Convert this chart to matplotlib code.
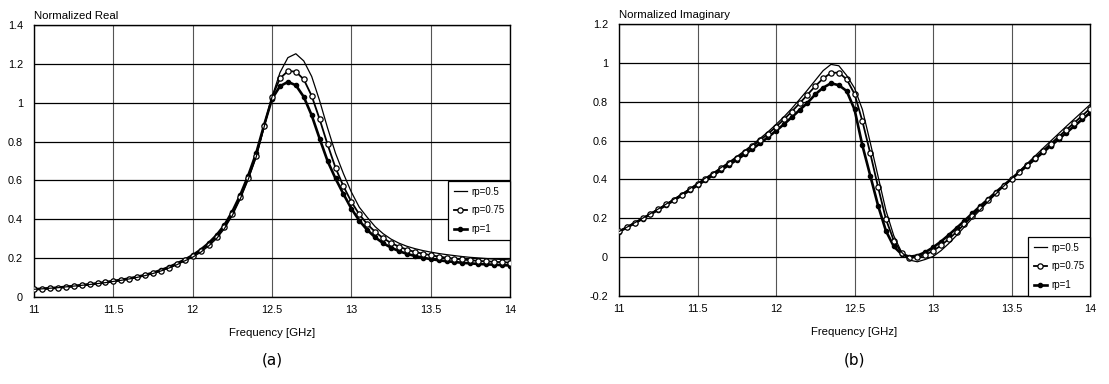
import numpy as np
import matplotlib
matplotlib.use("Agg")
import matplotlib.pyplot as plt
from matplotlib.ticker import MultipleLocator, FormatStrFormatter

plt.rcParams['font.family'] = ['Liberation Sans', 'DejaVu Sans']

# frequency grid, 11 .. 14 GHz in 0.05 steps
freq = np.round(np.arange(11.0, 14.0001, 0.05), 2)

# (a) normalized real part
real_05 = [0.040, 0.042, 0.045, 0.048, 0.052, 0.056, 0.060, 0.064, 0.069, 0.074,
           0.080, 0.086, 0.093, 0.101, 0.110, 0.121, 0.134, 0.149, 0.166, 0.186,
           0.205, 0.230, 0.262, 0.300, 0.352, 0.420, 0.505, 0.605, 0.720, 0.875,
           1.030, 1.155, 1.232, 1.252, 1.215, 1.135, 1.010, 0.870, 0.740, 0.635,
           0.540, 0.462, 0.410, 0.362, 0.326, 0.298, 0.277, 0.261, 0.249, 0.239,
           0.231, 0.224, 0.218, 0.213, 0.208, 0.204, 0.201, 0.198, 0.195, 0.193,
           0.191]
real_075 = [0.040, 0.042, 0.045, 0.048, 0.052, 0.056, 0.060, 0.065, 0.070, 0.075,
            0.081, 0.087, 0.094, 0.102, 0.112, 0.123, 0.136, 0.151, 0.169, 0.189,
            0.211, 0.238, 0.270, 0.309, 0.360, 0.428, 0.513, 0.612, 0.725, 0.880,
            1.030, 1.125, 1.163, 1.160, 1.120, 1.035, 0.915, 0.785, 0.665, 0.570,
            0.490, 0.425, 0.375, 0.335, 0.303, 0.278, 0.259, 0.244, 0.232, 0.223,
            0.215, 0.208, 0.202, 0.197, 0.193, 0.189, 0.186, 0.183, 0.181, 0.179,
            0.177]
real_1 = [0.040, 0.042, 0.045, 0.048, 0.052, 0.056, 0.061, 0.065, 0.070, 0.076,
          0.082, 0.088, 0.095, 0.104, 0.113, 0.125, 0.138, 0.154, 0.172, 0.192,
          0.215, 0.243, 0.277, 0.318, 0.370, 0.440, 0.525, 0.625, 0.740, 0.885,
          1.020, 1.085, 1.107, 1.090, 1.030, 0.935, 0.815, 0.700, 0.610, 0.530,
          0.455, 0.393, 0.345, 0.307, 0.277, 0.254, 0.236, 0.222, 0.211, 0.202,
          0.195, 0.189, 0.184, 0.180, 0.176, 0.173, 0.170, 0.168, 0.166, 0.164,
          0.162]

# (b) normalized imaginary part
imag_05 = [0.132, 0.154, 0.177, 0.200, 0.224, 0.248, 0.273, 0.299, 0.325, 0.352,
           0.380, 0.407, 0.434, 0.461, 0.489, 0.518, 0.548, 0.579, 0.612, 0.646,
           0.683, 0.722, 0.765, 0.812, 0.860, 0.910, 0.960, 0.992, 0.985, 0.935,
           0.870, 0.760, 0.590, 0.415, 0.240, 0.110, 0.025, -0.015, -0.024, -0.012,
           0.003, 0.033, 0.070, 0.112, 0.156, 0.200, 0.243, 0.285, 0.325, 0.365,
           0.404, 0.443, 0.482, 0.521, 0.560, 0.598, 0.636, 0.674, 0.711, 0.748,
           0.785]
imag_075 = [0.132, 0.154, 0.176, 0.199, 0.222, 0.246, 0.271, 0.296, 0.322, 0.349,
            0.376, 0.403, 0.430, 0.457, 0.484, 0.512, 0.541, 0.571, 0.603, 0.636,
            0.671, 0.709, 0.749, 0.792, 0.836, 0.880, 0.920, 0.948, 0.950, 0.915,
            0.840, 0.700, 0.535, 0.360, 0.195, 0.085, 0.022, -0.002, -0.001, 0.012,
            0.032, 0.060, 0.093, 0.130, 0.170, 0.211, 0.252, 0.292, 0.331, 0.368,
            0.404, 0.440, 0.476, 0.512, 0.548, 0.584, 0.620, 0.656, 0.692, 0.728,
            0.764]
imag_1 = [0.131, 0.153, 0.175, 0.198, 0.221, 0.244, 0.268, 0.293, 0.318, 0.344,
          0.370, 0.396, 0.422, 0.448, 0.474, 0.501, 0.529, 0.557, 0.587, 0.618,
          0.650, 0.684, 0.720, 0.757, 0.794, 0.838, 0.872, 0.895, 0.885, 0.855,
          0.760, 0.575, 0.420, 0.265, 0.135, 0.055, 0.015, 0.002, 0.008, 0.025,
          0.050, 0.080, 0.114, 0.150, 0.187, 0.225, 0.262, 0.298, 0.334, 0.369,
          0.403, 0.437, 0.471, 0.505, 0.539, 0.573, 0.607, 0.641, 0.675, 0.709,
          0.743]

labels = ['rp=0.5', 'rp=0.75', 'rp=1']

fig = plt.figure(figsize=(11.09, 3.84), dpi=100)
ax1 = fig.add_axes([0.0307, 0.2266, 0.4292, 0.7083])
ax2 = fig.add_axes([0.5582, 0.2292, 0.4247, 0.7083])


def draw(ax, s05, s075, s1, ylo, yhi, title, legend_y):
    ax.plot(freq, s1, color='black', lw=1.9, marker='o', ms=3.0,
            mfc='black', mec='black', label=labels[2], zorder=3)
    ax.plot(freq, s075, color='black', lw=1.3, marker='o', ms=3.8,
            mfc='white', mec='black', mew=0.9, label=labels[1], zorder=4)
    ax.plot(freq, s05, color='black', lw=0.9, label=labels[0], zorder=5)
    ax.set_xlim(11, 14)
    ax.set_ylim(ylo, yhi)
    ax.xaxis.set_major_locator(MultipleLocator(0.5))
    ax.yaxis.set_major_locator(MultipleLocator(0.2))
    ax.xaxis.set_major_formatter(FormatStrFormatter('%g'))
    ax.yaxis.set_major_formatter(FormatStrFormatter('%g'))
    ax.grid(True, axis='y', color='black', lw=0.9)
    ax.grid(True, axis='x', color='#555555', lw=0.8)
    ax.set_axisbelow(True)
    for sp in ax.spines.values():
        sp.set_color('black')
        sp.set_linewidth(1.0)
    ax.tick_params(length=0, labelsize=7.8, pad=6)
    ax.tick_params(axis='y', pad=8)
    ax.set_xlabel('Frequency [GHz]', fontsize=8.2, labelpad=9)
    ax.set_title(title, loc='left', fontsize=8.2, pad=4)
    h, l = ax.get_legend_handles_labels()
    leg = ax.legend(h[::-1], l[::-1], loc='lower right',
                    bbox_to_anchor=(1.0, legend_y), borderaxespad=0,
                    fontsize=7, handlelength=1.4, handletextpad=0.4,
                    labelspacing=0.9, borderpad=0.6, fancybox=False,
                    framealpha=1, edgecolor='black')
    leg.get_frame().set_linewidth(0.9)


draw(ax1, real_05, real_075, real_1, 0, 1.4, 'Normalized Real', 0.21)
draw(ax2, imag_05, imag_075, imag_1, -0.2, 1.2, 'Normalized Imaginary', 0.0)

fig.text(0.2453, 0.062, '(a)', ha='center', va='center', fontsize=11,
         family=['DejaVu Sans'])
fig.text(0.7705, 0.062, '(b)', ha='center', va='center', fontsize=11,
         family=['DejaVu Sans'])

fig.savefig('out.png', dpi=100)
